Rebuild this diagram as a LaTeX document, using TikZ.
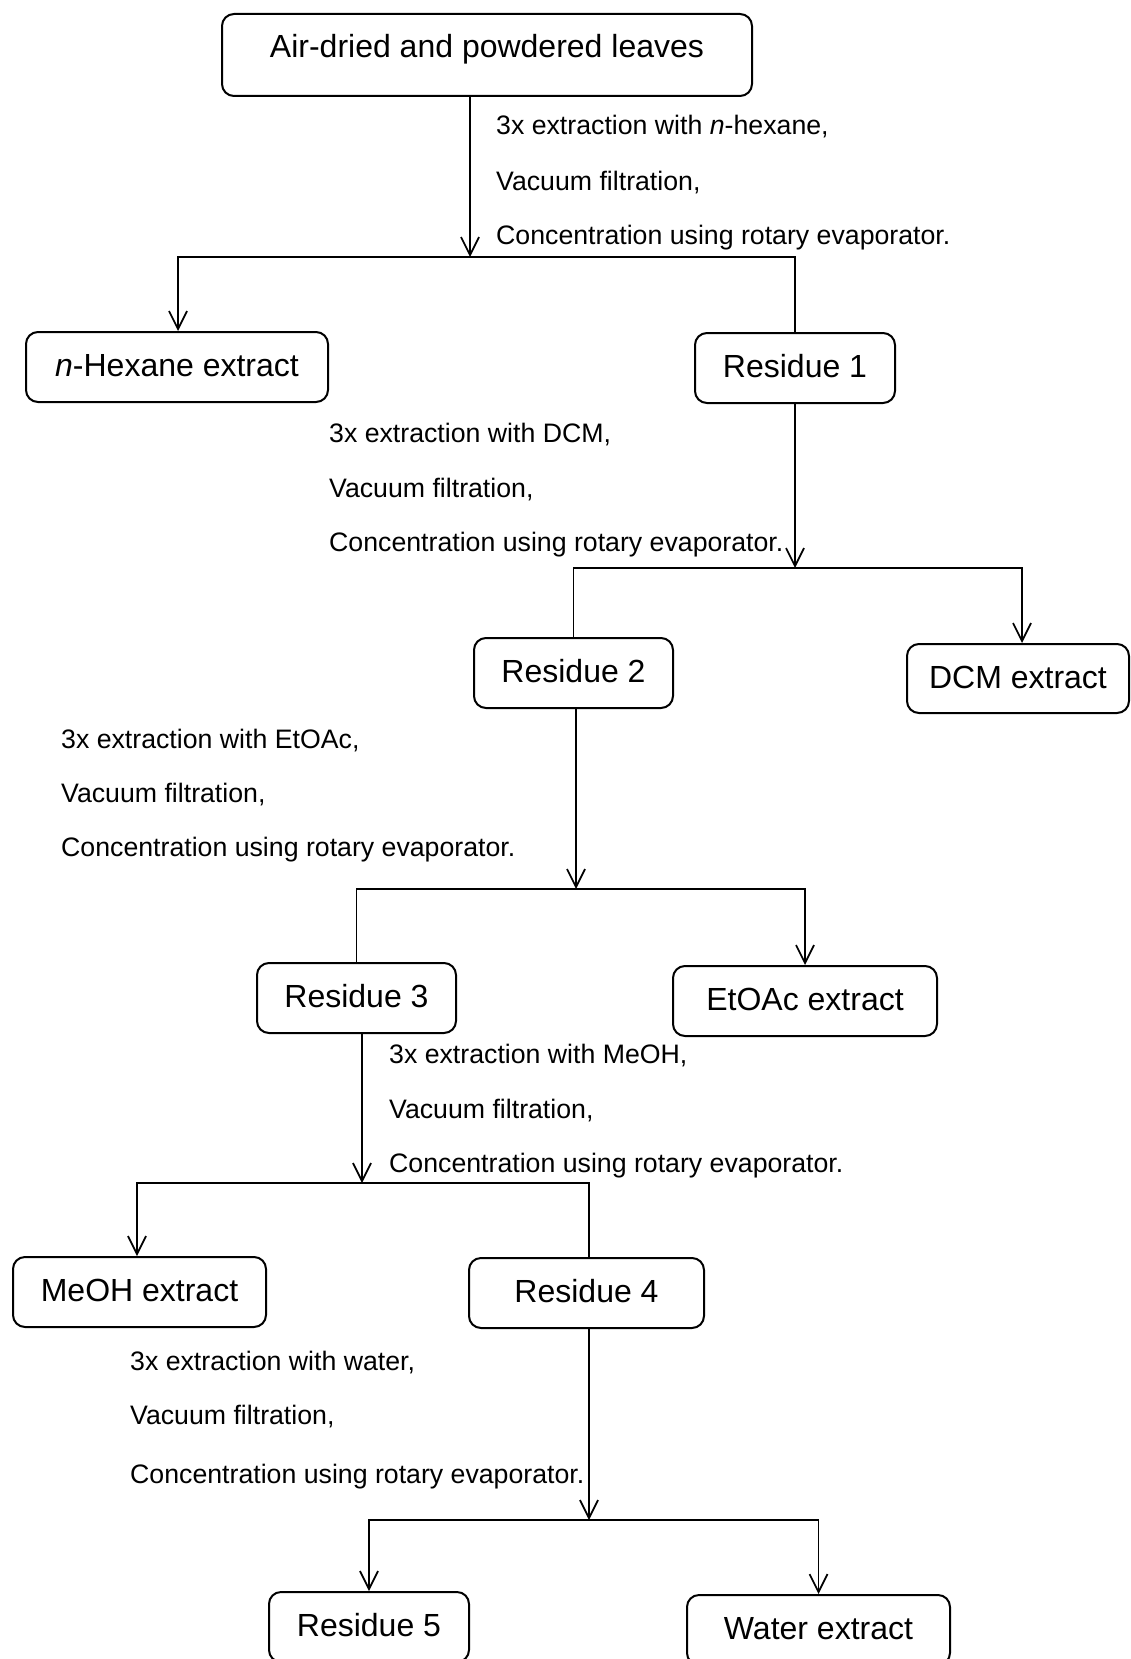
\documentclass[tikz,border=0pt]{standalone}
\usepackage{fontspec}
\setmainfont{Liberation Sans}
\usetikzlibrary{arrows.meta}
\tikzset{
  box/.style={draw, line width=2pt, rounded corners=12pt, inner sep=0pt,
    minimum height=70pt, text height=19.5pt, text depth=0pt,
    font=\fontsize{32}{37}\selectfont},
  lbl/.style={anchor=base west, inner sep=0pt, font=\fontsize{26.7}{30}\selectfont},
  conn/.style={line width=1.7pt},
  arr/.style={conn, -{Straight Barb[length=18pt,width=18pt,line width=1.7pt]}},
}
\begin{document}
\begin{tikzpicture}[x=1pt,y=-1pt]
\useasboundingbox (0,0) rectangle (1130,1659);
% boxes
\node[box, minimum width=530pt, minimum height=82pt, text height=20pt, text depth=14pt] (top) at (487,55) {Air-dried and powdered leaves};
\node[box, minimum width=302pt] (hex) at (177,367) {\textit{n}-Hexane extract};
\node[box, minimum width=200pt] (r1) at (795,368) {Residue 1};
\node[box, minimum width=199pt] (r2) at (573.5,673) {Residue 2};
\node[box, minimum width=222pt, minimum height=69pt] (dcm) at (1018,678.5) {DCM extract};
\node[box, minimum width=199pt] (r3) at (356.5,998) {Residue 3};
\node[box, minimum width=264pt] (etoac) at (805,1001) {EtOAc extract};
\node[box, minimum width=253pt] (meoh) at (139.5,1292) {MeOH extract};
\node[box, minimum width=235pt] (r4) at (586.5,1293) {Residue 4};
\node[box, minimum width=200pt] (r5) at (369,1627) {Residue 5};
\node[box, minimum width=263pt] (water) at (818.5,1630) {Water extract};
% junctions
\coordinate (j1) at (470,257);
\coordinate (j2) at (795,568);
\coordinate (j3) at (576,889);
\coordinate (j4) at (362,1183);
\coordinate (j5) at (589,1520);
% labels
\node[lbl] (l1a) at (496,135) {3x extraction with \textit{n}-hexane,};
\node[lbl] (l1b) at (496,190) {Vacuum filtration,};
\node[lbl] (l1c) at (496,244) {Concentration using rotary evaporator.};
\node[lbl] (l2a) at (329,442) {3x extraction with DCM,};
\node[lbl] (l2b) at (329,497) {Vacuum filtration,};
\node[lbl] (l2c) at (329,551) {Concentration using rotary evaporator.};
\node[lbl] (l3a) at (61,748) {3x extraction with EtOAc,};
\node[lbl] (l3b) at (61,802) {Vacuum filtration,};
\node[lbl] (l3c) at (61,856) {Concentration using rotary evaporator.};
\node[lbl] (l4a) at (389,1063) {3x extraction with MeOH,};
\node[lbl] (l4b) at (389,1118) {Vacuum filtration,};
\node[lbl] (l4c) at (389,1172) {Concentration using rotary evaporator.};
\node[lbl] (l5a) at (130,1370) {3x extraction with water,};
\node[lbl] (l5b) at (130,1424) {Vacuum filtration,};
\node[lbl] (l5c) at (130,1483) {Concentration using rotary evaporator.};
% connectors
\draw[arr] (top.south -| j1) -- (j1);
\draw[arr] (j1) -| (hex.north -| 178,0);
\draw[conn] (j1) -| (r1.north);
\draw[arr] (r1.south) -- (j2);
\draw[conn] (j2) -| (r2.north);
\draw[arr] (j2) -| (dcm.north -| 1022,0);
\draw[arr] (r2.south -| j3) -- (j3);
\draw[conn] (j3) -| (r3.north);
\draw[arr] (j3) -| (etoac.north);
\draw[arr] (r3.south -| j4) -- (j4);
\draw[arr] (j4) -| (meoh.north -| 137,0);
\draw[conn] (j4) -| (r4.north -| 589,0);
\draw[arr] (r4.south -| j5) -- (j5);
\draw[arr] (j5) -| (r5.north);
\draw[arr] (j5) -| (water.north);
\end{tikzpicture}
\end{document}
